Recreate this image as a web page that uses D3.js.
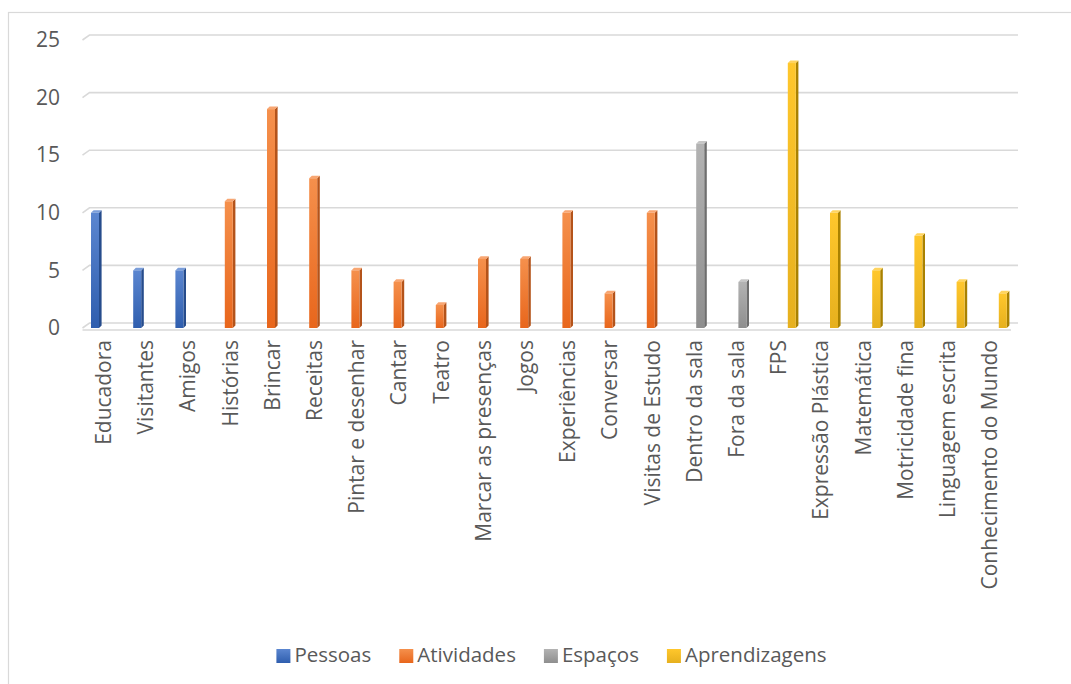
<!DOCTYPE html>
<html>
<head>
<meta charset="utf-8">
<script src="https://cdn.jsdelivr.net/npm/d3@7"></script>
<style>
  html, body { margin: 0; padding: 0; background: #ffffff; }
  svg { display: block; }
  text { font-family: "Open Sans", "Noto Sans", sans-serif; fill: #595959; }
</style>
</head>
<body>
<svg id="chart" width="1071" height="684"></svg>
<script>
// Categories in drawing order; each series owns a consecutive run of them.
const categories = [
  "Educadora", "Visitantes", "Amigos",
  "Histórias", "Brincar", "Receitas", "Pintar e desenhar", "Cantar", "Teatro",
  "Marcar as presenças", "Jogos", "Experiências", "Conversar", "Visitas de Estudo",
  "Dentro da sala", "Fora da sala",
  "FPS", "Expressão Plástica", "Matemática", "Motricidade fina", "Linguagem escrita",
  "Conhecimento do Mundo"
];
const seriesNames = ["Pessoas", "Atividades", "Espaços", "Aprendizagens"];
const pessoas = [10, 5, 5];
const atividades = [11, 19, 13, 5, 4, 2, 6, 6, 10, 3, 10];
const espacos = [16, 4];
const aprendizagens = [23, 10, 5, 8, 4, 3];
const yTicks = [0, 5, 10, 15, 20, 25];

// Colours per series: gradient top / bottom, side face, top face
const palette = {
  "Pessoas":       { top: "#5b86d0", bottom: "#2f5eae", side: "#264c8c", cap: "#7a9dd9" },
  "Atividades":    { top: "#f5904c", bottom: "#e8661c", side: "#b4531a", cap: "#f8a672" },
  "Espaços":       { top: "#b3b3b3", bottom: "#8e8e8e", side: "#6e6e6e", cap: "#c6c6c6" },
  "Aprendizagens": { top: "#ffc72c", bottom: "#e6b01e", side: "#a98100", cap: "#ffd45e" }
};

// Flatten into rows: one bar per category, tagged with its series
const seriesValues = [pessoas, atividades, espacos, aprendizagens];
const rows = [];
let ci = 0;
seriesValues.forEach((vals, si) => {
  vals.forEach(v => { rows.push({ cat: categories[ci], series: seriesNames[si], value: v }); ci++; });
});

const svg = d3.select("#chart");

// Outer chart frame
svg.append("rect")
  .attr("x", 8.5).attr("y", 12.5).attr("width", 1200).attr("height", 800)
  .attr("fill", "none").attr("stroke", "#d9d9d9").attr("stroke-width", 1.2);

// Geometry of the pseudo-3D plot: front plane and back wall
const left = 82.5, step = 42.2;
const x = d3.scaleBand().domain(categories).range([left, left + step * categories.length]).padding(0);
const slot = d3.scalePoint().domain(seriesNames).range([13.5, 13.5 + 21.6]);
const yFront = d3.scaleLinear().domain([0, 25]).range([328, 40]);
const depthX = 7, depthY = 5;
const yBack = v => yFront(v) - depthY;
const wallRight = 1018;

const grid = svg.append("g").attr("fill", "none").attr("stroke", "#d9d9d9").attr("stroke-width", 1.6);
// back-wall gridlines with the short slanted side-wall segment on the left
yTicks.forEach(t => {
  grid.append("path")
    .attr("d", d3.line()([[left, yFront(t)], [left + depthX, yBack(t)], [wallRight, yBack(t)]]));
});
// front edge of the floor
grid.append("line")
  .attr("x1", left).attr("x2", wallRight - depthX)
  .attr("y1", yFront(0) + 2).attr("y2", yFront(0) + 2);

// vertical gradients for the bar front faces
const defs = svg.append("defs");
seriesNames.forEach((s, i) => {
  const g = defs.append("linearGradient").attr("id", "grad" + i)
    .attr("x1", 0).attr("y1", 0).attr("x2", 0).attr("y2", 1);
  g.append("stop").attr("offset", "0%").attr("stop-color", palette[s].top);
  g.append("stop").attr("offset", "100%").attr("stop-color", palette[s].bottom);
});

// bars: front face, right side face, top face
const frontW = 8, sideW = 2.6, sideH = 2.6;
const bars = svg.append("g");
rows.forEach(d => {
  const si = seriesNames.indexOf(d.series);
  const cx = x(d.cat) + slot(d.series);
  const x0 = cx - 5, x1 = x0 + frontW;
  const yT = yFront(d.value), yB = yFront(0);
  const p = palette[d.series];
  bars.append("path")
    .attr("d", d3.line()([[x1, yT], [x1 + sideW, yT - sideH], [x1 + sideW, yB - sideH], [x1, yB]]) + "Z")
    .attr("fill", p.side);
  bars.append("path")
    .attr("d", d3.line()([[x0, yT], [x0 + sideW, yT - sideH], [x1 + sideW, yT - sideH], [x1, yT]]) + "Z")
    .attr("fill", p.cap);
  bars.append("rect")
    .attr("x", x0).attr("y", yT).attr("width", frontW).attr("height", yB - yT)
    .attr("fill", "url(#grad" + si + ")");
});

// y axis labels
const yAxis = svg.append("g")
  .attr("transform", "translate(70,0)")
  .call(d3.axisLeft(yFront).tickValues(yTicks).tickSize(0).tickPadding(10));
yAxis.select(".domain").remove();
yAxis.selectAll("text")
  .style("font-family", "'Open Sans', 'Noto Sans', sans-serif")
  .style("font-size", "21px").attr("fill", "#595959");

// category labels, rotated
const xAxis = svg.append("g")
  .attr("transform", "translate(0,340)")
  .call(d3.axisBottom(x).tickSize(0).tickPadding(0));
xAxis.select(".domain").remove();
xAxis.selectAll("text")
  .style("font-family", "'Open Sans', 'Noto Sans', sans-serif")
  .style("font-size", "21px").attr("fill", "#595959")
  .attr("text-anchor", "end")
  .attr("transform", "rotate(-90)")
  .attr("x", 0).attr("y", 0).attr("dy", "0.35em");

// legend, centred below the plot
const legend = svg.append("g");
let lx = 0;
seriesNames.forEach((s, i) => {
  const g = legend.append("g");
  g.append("rect").attr("x", 0).attr("y", -13).attr("width", 14).attr("height", 14)
    .attr("fill", "url(#grad" + i + ")");
  const t = g.append("text").attr("x", 18).attr("y", 0).text(s)
    .style("font-size", "20.5px");
  const w = 18 + t.node().getComputedTextLength();
  g.attr("transform", `translate(${lx},0)`);
  lx += w + 28;
});
const totalW = lx - 28;
legend.attr("transform", `translate(${551.5 - totalW / 2},662)`);
</script>
</body>
</html>
